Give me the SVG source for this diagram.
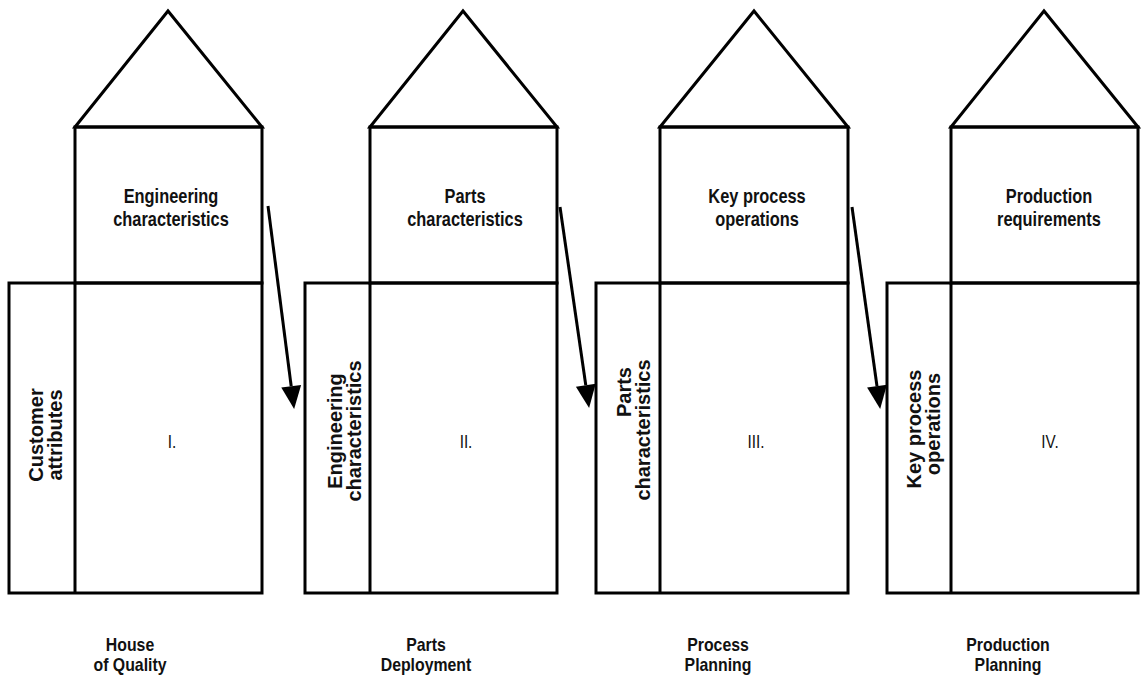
<svg xmlns="http://www.w3.org/2000/svg" width="1141" height="679" viewBox="0 0 1141 679">
<style>
.ln{fill:none;stroke:#000;stroke-width:3;stroke-linejoin:miter}
.top{font-family:"Liberation Sans",Arial,sans-serif;font-size:20px;font-weight:bold;text-anchor:middle;fill:#111}
.vert{font-family:"Liberation Sans",Arial,sans-serif;font-size:20px;font-weight:bold;text-anchor:middle;fill:#111}
.num{font-family:"Liberation Sans",Arial,sans-serif;font-size:18px;text-anchor:middle;fill:#111}
.bot{font-family:"Liberation Sans",Arial,sans-serif;font-size:18px;font-weight:bold;text-anchor:middle;fill:#111}
.arr{fill:none;stroke:#000;stroke-width:3}
</style>
<defs>
<marker id="ah" markerUnits="userSpaceOnUse" viewBox="0 -11 24 22" refX="0" refY="0" markerWidth="24" markerHeight="22" orient="auto" overflow="visible">
<path d="M0,-10 L23,0 L0,10 Z" fill="#000"/>
</marker>
</defs>
<rect width="1141" height="679" fill="#fff"/>

<g id="house1">
<polygon class="ln" points="75,127 168,11 262,127"/>
<rect class="ln" x="75" y="127" width="187" height="156"/>
<rect class="ln" x="9" y="283" width="253" height="310"/>
<line class="ln" x1="75" y1="283" x2="75" y2="593"/>
<g transform="translate(171,0) scale(0.82,1)"><text class="top" x="0" y="203">Engineering</text><text class="top" x="0" y="226">characteristics</text></g>
<text class="vert" transform="translate(43,435) rotate(-90)">Customer</text>
<text class="vert" transform="translate(62,435) rotate(-90)">attributes</text>
<g transform="translate(172,0) scale(0.85,1)"><text class="num" x="0" y="448">I.</text></g>
<g transform="translate(130,0) scale(0.88,1)"><text class="bot" x="0" y="651">House</text><text class="bot" x="0" y="671">of Quality</text></g>
</g>

<g id="house2">
<polygon class="ln" points="370,127 463,11 557,127"/>
<rect class="ln" x="370" y="127" width="187" height="156"/>
<rect class="ln" x="305" y="283" width="252" height="310"/>
<line class="ln" x1="370" y1="283" x2="370" y2="593"/>
<g transform="translate(465,0) scale(0.82,1)"><text class="top" x="0" y="203">Parts</text><text class="top" x="0" y="226">characteristics</text></g>
<text class="vert" transform="translate(342,431) rotate(-90)">Engineering</text>
<text class="vert" transform="translate(361,431) rotate(-90)">characteristics</text>
<g transform="translate(466,0) scale(0.85,1)"><text class="num" x="0" y="448">II.</text></g>
<g transform="translate(426,0) scale(0.88,1)"><text class="bot" x="0" y="651">Parts</text><text class="bot" x="0" y="671">Deployment</text></g>
</g>

<g id="house3">
<polygon class="ln" points="660,127 754,11 848,127"/>
<rect class="ln" x="660" y="127" width="188" height="156"/>
<rect class="ln" x="596" y="283" width="252" height="310"/>
<line class="ln" x1="660" y1="283" x2="660" y2="593"/>
<g transform="translate(757,0) scale(0.82,1)"><text class="top" x="0" y="203">Key process</text><text class="top" x="0" y="226">operations</text></g>
<text class="vert" transform="translate(631,367) rotate(-90)" style="text-anchor:end">Parts</text>
<text class="vert" transform="translate(650,430) rotate(-90)">characteristics</text>
<g transform="translate(756,0) scale(0.85,1)"><text class="num" x="0" y="448">III.</text></g>
<g transform="translate(718,0) scale(0.88,1)"><text class="bot" x="0" y="651">Process</text><text class="bot" x="0" y="671">Planning</text></g>
</g>

<g id="house4">
<polygon class="ln" points="951,127 1044,11 1138,127"/>
<rect class="ln" x="951" y="127" width="187" height="156"/>
<rect class="ln" x="887" y="283" width="251" height="310"/>
<line class="ln" x1="951" y1="283" x2="951" y2="593"/>
<g transform="translate(1049,0) scale(0.82,1)"><text class="top" x="0" y="203">Production</text><text class="top" x="0" y="226">requirements</text></g>
<text class="vert" transform="translate(921,429) rotate(-90)">Key process</text>
<text class="vert" transform="translate(940,424) rotate(-90)">operations</text>
<g transform="translate(1050,0) scale(0.85,1)"><text class="num" x="0" y="448">IV.</text></g>
<g transform="translate(1008,0) scale(0.88,1)"><text class="bot" x="0" y="651">Production</text><text class="bot" x="0" y="671">Planning</text></g>
</g>

<g id="connectors">
<line class="arr" x1="268" y1="206" x2="291.2" y2="386.2" marker-end="url(#ah)"/>
<line class="arr" x1="560" y1="207" x2="585.8" y2="385.2" marker-end="url(#ah)"/>
<line class="arr" x1="852" y1="207" x2="877" y2="386.2" marker-end="url(#ah)"/>
</g>
</svg>
